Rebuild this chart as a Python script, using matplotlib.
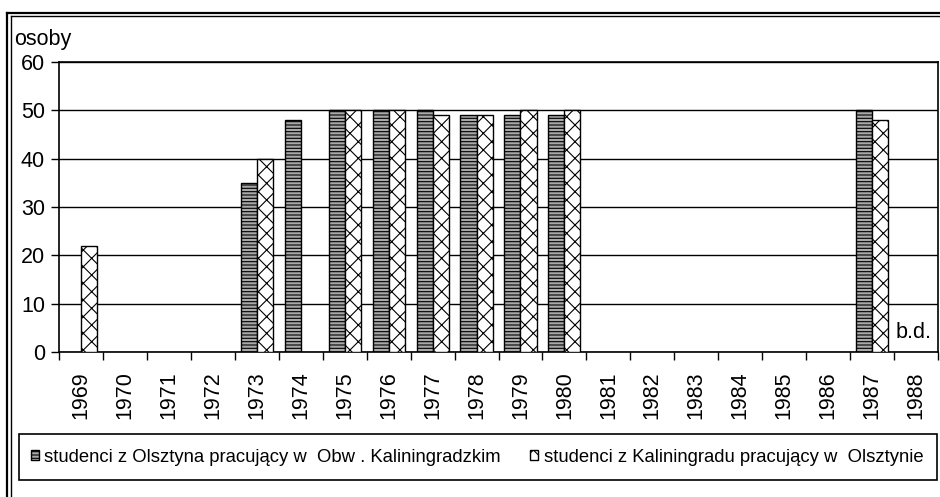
import numpy as np
import matplotlib
matplotlib.use("Agg")
import matplotlib.pyplot as plt
from matplotlib.lines import Line2D
from matplotlib.patches import Patch, Rectangle

plt.rcParams['font.family'] = ['Liberation Sans', 'DejaVu Sans']
plt.rcParams['hatch.linewidth'] = 0.8

years = ['1969', '1970', '1971', '1972', '1973', '1974', '1975', '1976', '1977', '1978',
         '1979', '1980', '1981', '1982', '1983', '1984', '1985', '1986', '1987', '1988']
# studenci z Olsztyna pracujacy w Obw. Kaliningradzkim
olsztyn = [0, 0, 0, 0, 35, 48, 50, 50, 50, 49, 49, 49, 0, 0, 0, 0, 0, 0, 50, 0]
# studenci z Kaliningradu pracujacy w Olsztynie
kalin = [22, 0, 0, 0, 40, 0, 50, 50, 49, 49, 50, 50, 0, 0, 0, 0, 0, 0, 48, 0]

label1 = 'studenci z Olsztyna pracujący w  Obw . Kaliningradzkim'
label2 = 'studenci z Kaliningradu pracujący w  Olsztynie'

fig = plt.figure(figsize=(9.4, 4.97), dpi=100)
W, H = 940, 497
ax = fig.add_axes([59 / W, (H - 352) / H, 879 / W, 290 / H])

x = np.arange(len(years))
bw = 0.365
b1 = [v if v > 0 else np.nan for v in olsztyn]
b2 = [v if v > 0 else np.nan for v in kalin]
ax.bar(x - bw / 2, b1, bw, facecolor='#a8a8a8', edgecolor='black',
       hatch='-----', linewidth=1.0, zorder=3)
ax.bar(x + bw / 2, b2, bw, facecolor='white', edgecolor='black',
       hatch='xx', linewidth=1.0, zorder=3)

ax.set_xlim(-0.5, len(years) - 0.5)
ax.set_ylim(0, 60)
ax.set_yticks(range(0, 61, 10))
ax.yaxis.grid(True, color='black', linewidth=1.0, zorder=0)
ax.set_axisbelow(True)
ax.set_xticks(x)
ax.set_xticklabels(years, rotation=90, fontsize=15.5)
ax.set_xticks(np.arange(-0.5, len(years)), minor=True)
ax.tick_params(axis='x', which='major', length=0, pad=14)
ax.tick_params(axis='x', which='minor', length=6, width=1, direction='out')
ax.tick_params(axis='y', length=6, width=1, labelsize=15.5, pad=4)
for s in ax.spines.values():
    s.set_linewidth(1.2)
    s.set_color('black')

ax.text(0.993, 0.03, 'b.d.', transform=ax.transAxes, ha='right', va='bottom', fontsize=15.5)
fig.text(14 / W, 1 - 40 / H, 'osoby', ha='left', va='center', fontsize=15.5)

# double frame (cropped on right and bottom)
for px in (7.5, 10.5):
    fig.add_artist(Line2D([px / W, px / W], [0, 1 - (13 if px < 9 else 16) / H],
                          color='black', linewidth=1.6 if px < 9 else 1.0,
                          transform=fig.transFigure))
for py, px0, lw in ((13, 7.5, 1.6), (16, 10.5, 1.0)):
    fig.add_artist(Line2D([px0 / W, 1], [1 - py / H, 1 - py / H], color='black',
                          linewidth=lw, transform=fig.transFigure))

# legend box
fig.add_artist(Rectangle((19 / W, 1 - 480 / H), (937 - 19) / W, 46 / H,
                         facecolor='none', edgecolor='black', linewidth=1.2,
                         transform=fig.transFigure))
handles = [Patch(facecolor='#a8a8a8', edgecolor='black', hatch='-----', label=label1),
           Patch(facecolor='white', edgecolor='black', hatch='xx', label=label2)]
fig.legend(handles=handles, ncol=2, loc='center left',
           bbox_to_anchor=(19 / W, 1 - 457 / H), borderaxespad=0,
           fontsize=13.3, frameon=False,
           handlelength=0.45, handleheight=0.5, handletextpad=0.3,
           columnspacing=1.55, borderpad=0.63)

fig.savefig('out.png', dpi=100)
